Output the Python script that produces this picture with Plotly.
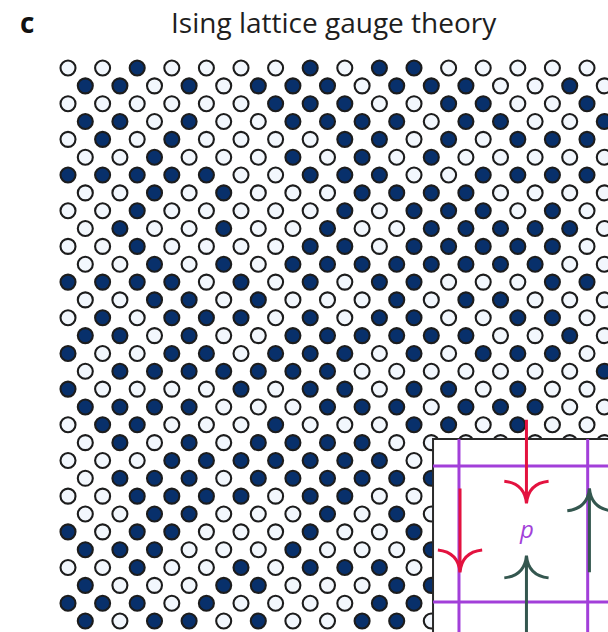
import plotly.graph_objects as go

# ---- data: link spins of the lattice (1 = filled / down, 0 = open / up) ----
# rows from top to bottom; even rows hold 16 sites at integer columns,
# odd rows hold 16 sites shifted by half a column.
ROW_STATES = [
    "0010000101100000",
    "1101011101110010",
    "0000001110011001",
    "1101001111011001",
    "0101000011010111",
    "0010001010100000",
    "1111100111001111",
    "0010100011110000",
    "0010000010111010",
    "0100100100111110",
    "0010000110111110",
    "0010101111111100",
    "1111010101100011",
    "0011010001011000",
    "0101110101100110",
    "1101001111110010",
    "1001101110101110",
    "0111111100000001",
    "1000010110110100",
    "1111000111011100",
    "0110001000110100",
    "0101011110000000",
    "0001111111000000",
    "0111011111100000",
    "0011110110000000",
    "0011000101000000",
    "1011000100100000",
    "1110001000100000",
    "0010010111000000",
    "1000110001100000",
    "1110100001100000",
    "1011010011000000",
]

TITLE = "Ising lattice gauge theory"
PANEL = "c"

# inset plaquette: links and their spins (+1 up, -1 down)
PLAQ_LINKS = ["top", "left", "right", "bottom"]
PLAQ_SPINS = [-1, -1, 1, 1]
PLAQ_LABEL = "p"

# ---- geometry (lattice units) ----
COL_PX = 34.6      # pixels per column
ROW_PX = 17.84     # pixels per row
X_ORIGIN_PX = 68
Y_ORIGIN_PX = 68
W, H = 608, 632

NAVY = "#08306b"
OPEN = "#f2f7fd"
EDGE = "#1c1c1c"
PURPLE = "#a23fd9"
RED = "#e3123f"
TEAL = "#34574f"

xs_f, ys_f, xs_o, ys_o = [], [], [], []
for r, row in enumerate(ROW_STATES):
    shift = 0.5 if r % 2 else 0.0
    for k, ch in enumerate(row):
        x = k + shift
        if ch == "1":
            xs_f.append(x); ys_f.append(r)
        else:
            xs_o.append(x); ys_o.append(r)

fig = go.Figure()
marker_common = dict(size=15, line=dict(color=EDGE, width=2.1), symbol="circle")
fig.add_trace(go.Scatter(x=xs_o, y=ys_o, mode="markers",
                         marker=dict(color=OPEN, **marker_common),
                         hoverinfo="skip", showlegend=False))
fig.add_trace(go.Scatter(x=xs_f, y=ys_f, mode="markers",
                         marker=dict(color=NAVY, **marker_common),
                         hoverinfo="skip", showlegend=False))

x0 = -X_ORIGIN_PX / COL_PX
x1 = x0 + W / COL_PX
y0 = -Y_ORIGIN_PX / ROW_PX
y1 = y0 + H / ROW_PX

# inset layout in lattice units
BOX_L, BOX_T = 10.55, 20.80
BOX_R, BOX_B = x1 + 1, y1 + 1
XL, XR = 11.30, 15.02           # vertical plaquette edges
YT, YB = 22.31, 29.93           # horizontal plaquette edges
XM = 13.25
YM = (YT + YB) / 2
ARROW_LEN = 4.7
WING_W = 0.64
WING_D = 1.25

shapes = []
shapes.append(dict(type="rect", xref="x", yref="y", x0=BOX_L, x1=BOX_R, y0=BOX_T, y1=BOX_B,
                   fillcolor="white", line=dict(color="#2a2a2a", width=2), layer="above"))
for xv in (XL, XR):
    shapes.append(dict(type="line", xref="x", yref="y", x0=xv, x1=xv, y0=BOX_T, y1=BOX_B,
                       line=dict(color=PURPLE, width=3), layer="above"))
for yv in (YT, YB):
    shapes.append(dict(type="line", xref="x", yref="y", x0=BOX_L, x1=BOX_R, y0=yv, y1=yv,
                       line=dict(color=PURPLE, width=3), layer="above"))

link_centers = {"top": (XM, YT - 0.25), "bottom": (XM, YB - 0.25),
                "left": (XL + 0.03, YM - 0.2), "right": (XR + 0.05, YM - 0.2)}


def arrow_path(xc, yc, spin):
    d = spin  # +1 up (towards smaller row index)
    tip = yc - d * ARROW_LEN / 2
    tail = yc + d * ARROW_LEN / 2
    wing = tip + d * WING_D
    cy = tip + d * 0.9 * WING_D
    return (f"M {xc},{tail} L {xc},{tip} "
            f"M {xc - WING_W},{wing} Q {xc - 0.08 * WING_W},{cy} {xc},{tip} "
            f"Q {xc + 0.08 * WING_W},{cy} {xc + WING_W},{wing}")


for link, spin in zip(PLAQ_LINKS, PLAQ_SPINS):
    xc, yc = link_centers[link]
    shapes.append(dict(type="path", xref="x", yref="y", path=arrow_path(xc, yc, spin),
                       line=dict(color=TEAL if spin > 0 else RED, width=3),
                       fillcolor="rgba(0,0,0,0)", layer="above"))

annotations = [
    dict(text=TITLE, x=334 / W, y=1 - 22 / H, xref="paper", yref="paper",
         showarrow=False, xanchor="center", yanchor="middle",
         font=dict(family="Open Sans", size=28, color="#1e1e1e")),
    dict(text=f"<b>{PANEL}</b>", x=27 / W, y=1 - 22 / H, xref="paper", yref="paper",
         showarrow=False, xanchor="center", yanchor="middle",
         font=dict(family="Open Sans", size=28, color="#111111")),
    dict(text=f"<i>{PLAQ_LABEL}</i>", x=XM, y=YM - 0.3, xref="x", yref="y",
         showarrow=False, xanchor="center", yanchor="middle",
         font=dict(family="Open Sans", size=24, color=PURPLE)),
]

fig.update_layout(
    width=W, height=H, autosize=False,
    margin=dict(l=0, r=0, t=0, b=0),
    paper_bgcolor="white", plot_bgcolor="white",
    xaxis=dict(range=[x0, x1], visible=False, fixedrange=True),
    yaxis=dict(range=[y1, y0], visible=False, fixedrange=True),
    shapes=shapes, annotations=annotations,
)

fig.write_html("out.html", config={"displayModeBar": False},
               post_script="document.body.style.margin='0';document.body.style.overflow='hidden';")
